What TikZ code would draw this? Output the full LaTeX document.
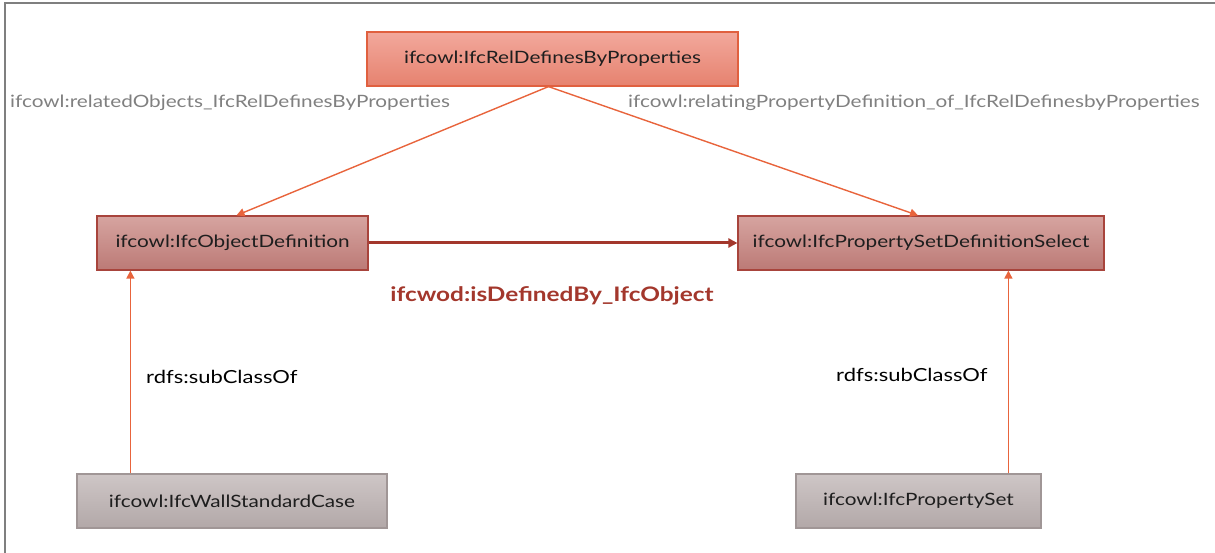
\documentclass[tikz,border=0pt]{standalone}
\usepackage{fontspec}
\setmainfont{Lato}[FakeStretch=1.22]
\usetikzlibrary{arrows.meta}
\definecolor{topfillA}{HTML}{F2A89C}
\definecolor{topfillB}{HTML}{E6826F}
\definecolor{topdraw}{HTML}{E0603F}
\definecolor{midfillA}{HTML}{D6A4A0}
\definecolor{midfillB}{HTML}{BC7A76}
\definecolor{middraw}{HTML}{A8443C}
\definecolor{lowfillA}{HTML}{CEC6C6}
\definecolor{lowfillB}{HTML}{B2A8A8}
\definecolor{lowdraw}{HTML}{A09696}
\definecolor{orangeline}{HTML}{E8643C}
\definecolor{darkred}{HTML}{A3372C}
\definecolor{graytext}{HTML}{808080}
\definecolor{frameline}{HTML}{7F7F7F}
\definecolor{boxtext}{HTML}{1E1E1E}
\tikzset{
  classbox/.style={rectangle, minimum height=54pt, inner sep=0pt, line width=1.2pt,
    text=boxtext, font=\fontsize{17}{20}\selectfont},
  topbox/.style={classbox, draw=topdraw, top color=topfillA, bottom color=topfillB},
  midbox/.style={classbox, draw=middraw, top color=midfillA, bottom color=midfillB},
  lowbox/.style={classbox, draw=lowdraw, top color=lowfillA, bottom color=lowfillB},
  orangearrow/.style={draw=orangeline, line width=1.4pt, -{Triangle[length=8pt,width=8pt]}},
  redarrow/.style={draw=darkred, line width=3pt, -{Triangle[length=9pt,width=9pt]}},
  graylabel/.style={text=graytext, font=\fontsize{17}{20}\selectfont, inner sep=0pt, anchor=west},
  subclasslabel/.style={text=black, font=\fontsize{18}{21}\selectfont, inner sep=0pt, anchor=west},
  rellabel/.style={text=darkred, font=\bfseries\fontsize{20}{24}\selectfont, inner sep=0pt}
}
\begin{document}
\begin{tikzpicture}[x=1pt,y=-1pt]
\useasboundingbox (0,0) rectangle (1215,553);
\draw[frameline, line width=2pt] (1215,3) -- (5,3) -- (5,553);

\node[topbox, minimum width=371pt] (rel) at (552.5,59) {ifcowl:IfcRelDefinesByProperties};
\node[midbox, minimum width=271pt] (obj) at (232.5,243) {ifcowl:IfcObjectDefinition};
\node[midbox, minimum width=366pt] (pset) at (921,243) {ifcowl:IfcPropertySetDefinitionSelect};
\node[lowbox, minimum width=310pt] (wall) at (232,501) {ifcowl:IfcWallStandardCase};
\node[lowbox, minimum width=245pt] (prop) at (918.5,501) {ifcowl:IfcPropertySet};

\coordinate (wallup) at ([xshift=54pt]wall.north west);
\coordinate (propup) at ([xshift=213pt]prop.north west);

\draw[orangearrow] ([xshift=-4pt]rel.south) -- ([xshift=4pt]obj.north);
\draw[orangearrow] ([xshift=-4pt]rel.south) -- ([xshift=-3pt]pset.north);
\draw[redarrow] (obj.east) -- (pset.west);
\draw[orangearrow] (wallup) -- (wallup |- obj.south);
\draw[orangearrow] (propup) -- (propup |- pset.south);

\node[graylabel] (lblrelated) at (10,103) {ifcowl:relatedObjects\_IfcRelDefinesByProperties};
\node[graylabel] (lblrelating) at (628,103) {ifcowl:relatingPropertyDefinition\_of\_IfcRelDefinesbyProperties};
\node[rellabel] (lbldefined) at (552,296) {ifcwod:isDefinedBy\_IfcObject};
\node[subclasslabel] (lblsubA) at (146,377) {rdfs:subClassOf};
\node[subclasslabel] (lblsubB) at (836,375) {rdfs:subClassOf};
\end{tikzpicture}
\end{document}
